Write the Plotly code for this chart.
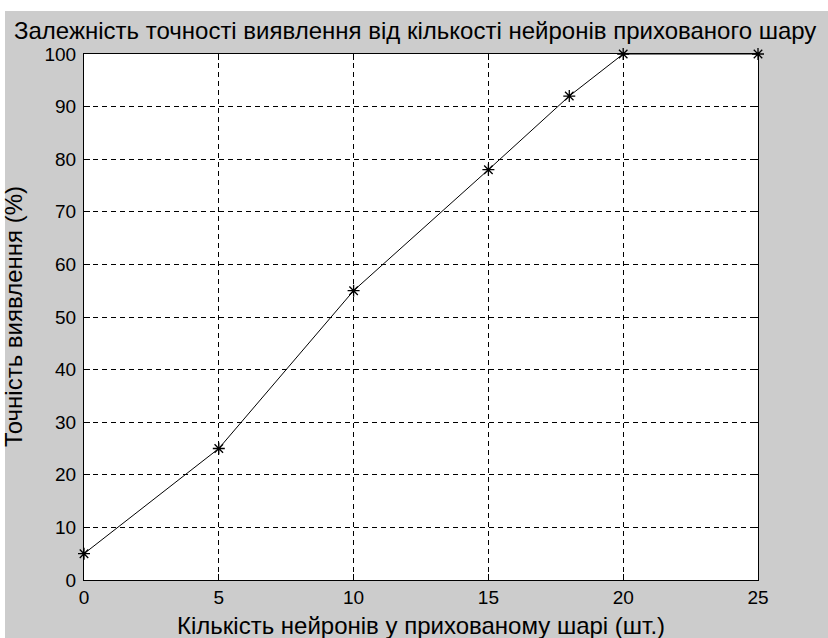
import plotly.graph_objects as go

# Accuracy of detection versus number of hidden-layer neurons
neurons = [0, 5, 10, 15, 18, 20, 25]
accuracy = [5, 25, 55, 78, 92, 100, 100]

x_ticks = [0, 5, 10, 15, 20, 25]
y_ticks = [0, 10, 20, 30, 40, 50, 60, 70, 80, 90, 100]

title_text = "Залежність точності виявлення від кількості нейронів прихованого шару"
x_title = "Кількість нейронів у прихованому шарі (шт.)"
y_title = "Точність виявлення (%)"

W, H = 828, 638
L, R, T, B = 84, 70, 54, 58
pw, ph = W - L - R, H - T - B


def px_x(p):
    return (p - L) / pw


def px_y(p):
    return (H - B - p) / ph


FONT = "Liberation Sans, Arial, sans-serif"

fig = go.Figure()
fig.add_trace(go.Scatter(
    x=neurons, y=accuracy, mode="lines+markers",
    line=dict(color="black", width=1),
    marker=dict(symbol="asterisk", size=10, color="black",
                line=dict(color="black", width=1.3)),
    showlegend=False, cliponaxis=False,
))

axis_common = dict(
    showline=True, linecolor="black", linewidth=1, mirror="ticks",
    ticks="inside", ticklen=6, tickwidth=1, tickcolor="black",
    showgrid=True, gridcolor="black", gridwidth=1, griddash="5px,4px",
    zeroline=False, tickfont=dict(family=FONT, size=19, color="black"),
)

fig.update_xaxes(range=[0, 25], tickvals=x_ticks,
                 ticktext=[str(v) for v in x_ticks], **axis_common)
fig.update_yaxes(range=[0, 100], tickvals=y_ticks,
                 ticktext=[str(v) for v in y_ticks], ticklabelstandoff=3,
                 **axis_common)

fig.update_layout(
    width=W, height=H,
    margin=dict(l=L, r=R, t=T, b=B, pad=0),
    paper_bgcolor="#cccccc", plot_bgcolor="white",
    font=dict(family=FONT, color="black"),
    shapes=[
        dict(type="rect", xref="paper", yref="paper", layer="above",
             x0=px_x(0), x1=px_x(W), y0=px_y(11), y1=px_y(0),
             fillcolor="white", line=dict(width=0)),
        dict(type="rect", xref="paper", yref="paper", layer="above",
             x0=px_x(0), x1=px_x(5), y0=px_y(H), y1=px_y(0),
             fillcolor="white", line=dict(width=0)),
    ],
    annotations=[
        dict(text=title_text, xref="paper", yref="paper",
             x=px_x(415), y=px_y(31), xanchor="center", yanchor="middle",
             showarrow=False, font=dict(family=FONT, size=24, color="black")),
        dict(text=x_title, xref="paper", yref="paper",
             x=0.5, y=px_y(625), xanchor="center", yanchor="middle",
             showarrow=False, font=dict(family=FONT, size=24, color="black")),
        dict(text=y_title, xref="paper", yref="paper", textangle=-90,
             x=px_x(13), y=0.5, xanchor="center", yanchor="middle",
             showarrow=False, font=dict(family=FONT, size=24, color="black")),
    ],
)

fig.write_html("out.html")
